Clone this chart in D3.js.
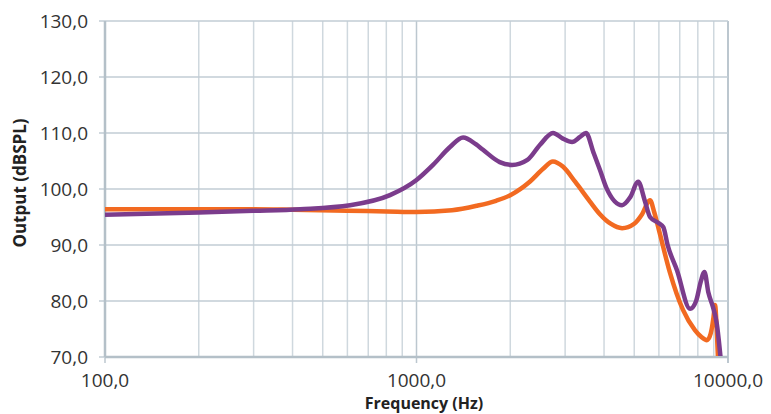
<!DOCTYPE html>
<html>
<head>
<meta charset="utf-8">
<script src="https://cdn.jsdelivr.net/npm/d3@7"></script>
<style>
  html, body { margin: 0; padding: 0; background: #fff; }
  svg { display: block; }
  .tick-label { font-family: "Open Sans", sans-serif; font-size: 19px; fill: #333; }
  .axis-title { font-family: "Open Sans", sans-serif; font-size: 17px; font-weight: bold; fill: #222; }
</style>
</head>
<body>
<div id="chart"></div>
<script>
// tick values
var yTicks = [70, 80, 90, 100, 110, 120, 130];
var xMajor = [100, 1000, 10000];

// orange series
var orangeFreq = [100, 200, 300, 400, 600, 800, 1000, 1300, 1560, 1800, 2000, 2310, 2550, 2740, 2950, 3230, 3600, 3880, 4200, 4570, 5000, 5300, 5620, 5800, 6000, 6500, 7170, 7830, 8200, 8560, 8800, 8980, 9085, 9200, 9300];
var orangeVal  = [96.4, 96.4, 96.4, 96.3, 96.1, 96.0, 95.9, 96.2, 97.0, 97.9, 98.9, 101.3, 103.6, 104.9, 104.0, 101.3, 97.8, 95.5, 93.8, 93.0, 93.8, 95.5, 98.0, 95.8, 92.7, 85.2, 78.4, 74.8, 73.6, 73.0, 74.2, 77.0, 79.3, 75.0, 69.0];

// purple series
var purpleFreq = [100, 200, 300, 423, 612, 822, 1000, 1130, 1281, 1411, 1550, 1635, 1850, 2026, 2270, 2492, 2743, 2950, 3157, 3350, 3500, 3700, 3882, 4070, 4570, 4850, 5150, 5400, 5620, 6000, 6200, 6400, 6858, 7555, 7900, 8180, 8400, 8650, 8950, 9200, 9500];
var purpleVal  = [95.4, 95.8, 96.1, 96.4, 97.1, 98.9, 101.6, 104.3, 107.5, 109.2, 108.0, 107.0, 104.8, 104.3, 105.2, 107.9, 110.0, 109.0, 108.4, 109.3, 110.0, 106.5, 103.4, 100.2, 97.1, 98.5, 101.3, 98.0, 95.0, 93.9, 93.2, 90.0, 85.5, 78.6, 80.0, 83.5, 85.2, 81.5, 78.9, 76.0, 69.0];

var W = 771, H = 414;
var margin = { top: 21, right: 43, bottom: 57, left: 105 };
var plotW = W - margin.left - margin.right;
var plotH = H - margin.top - margin.bottom;

var svg = d3.select('#chart').append('svg')
    .attr('width', W)
    .attr('height', H);

var x = d3.scaleLog().domain([100, 10000]).range([margin.left, margin.left + plotW]);
var y = d3.scaleLinear().domain([70, 130]).range([margin.top + plotH, margin.top]);

// minor vertical grid (2..9 of each decade)
var minor = [];
[100, 1000].forEach(function (d) {
    for (var k = 2; k <= 9; k++) { minor.push(d * k); }
});

var grid = svg.append('g');
grid.selectAll('line.vminor')
    .data(minor)
    .enter().append('line')
    .attr('x1', function (d) { return x(d); })
    .attr('x2', function (d) { return x(d); })
    .attr('y1', y(130))
    .attr('y2', y(70))
    .attr('stroke', '#cfd8de')
    .attr('stroke-width', 1.5);

grid.selectAll('line.vmajor')
    .data(xMajor)
    .enter().append('line')
    .attr('x1', function (d) { return x(d); })
    .attr('x2', function (d) { return x(d); })
    .attr('y1', y(130))
    .attr('y2', y(70) + 6)
    .attr('stroke', '#bcc7cf')
    .attr('stroke-width', function (d, i) { return i === 2 ? 2 : 1.5; });

grid.selectAll('line.h')
    .data(yTicks)
    .enter().append('line')
    .attr('x1', x(100) - 6)
    .attr('x2', x(10000))
    .attr('y1', function (d) { return y(d); })
    .attr('y2', function (d) { return y(d); })
    .attr('stroke', '#c2ccd4')
    .attr('stroke-width', 1.5);

// axis lines
svg.append('line')
    .attr('x1', x(100)).attr('x2', x(100))
    .attr('y1', y(130)).attr('y2', y(70))
    .attr('stroke', '#b4c0c8').attr('stroke-width', 2.5);
svg.append('line')
    .attr('x1', x(100)).attr('x2', x(10000))
    .attr('y1', y(70)).attr('y2', y(70))
    .attr('stroke', '#b4c0c8').attr('stroke-width', 2.5);

// tick labels
var fmt = function (v) { return d3.format('.1f')(v).replace('.', ','); };

svg.selectAll('text.ylab')
    .data(yTicks)
    .enter().append('text')
    .attr('class', 'tick-label')
    .attr('x', 88)
    .attr('y', function (d) { return y(d); })
    .attr('dy', '0.36em')
    .attr('text-anchor', 'end')
    .text(fmt);

svg.selectAll('text.xlab')
    .data(xMajor)
    .enter().append('text')
    .attr('class', 'tick-label')
    .attr('x', function (d) { return x(d); })
    .attr('y', 387)
    .attr('text-anchor', 'middle')
    .text(fmt);

// axis titles
svg.append('text')
    .attr('class', 'axis-title')
    .attr('transform', 'translate(26,' + (y(100) - 6) + ') rotate(-90)')
    .attr('text-anchor', 'middle')
    .text('Output (dBSPL)');

svg.append('text')
    .attr('class', 'axis-title')
    .style('font-size', '16px')
    .attr('x', 424)
    .attr('y', 409)
    .attr('text-anchor', 'middle')
    .text('Frequency (Hz)');

// curves
svg.append('clipPath').attr('id', 'plot-clip')
    .append('rect')
    .attr('x', margin.left).attr('y', margin.top - 5)
    .attr('width', plotW).attr('height', plotH + 4);

var line = d3.line()
    .x(function (d) { return x(d[0]); })
    .y(function (d) { return y(d[1]); })
    .curve(d3.curveMonotoneX);

var curves = svg.append('g').attr('clip-path', 'url(#plot-clip)');

curves.append('path')
    .datum(d3.zip(orangeFreq, orangeVal))
    .attr('d', line)
    .attr('fill', 'none')
    .attr('stroke', '#f26a21')
    .attr('stroke-width', 4.5)
    .attr('stroke-linejoin', 'round');

curves.append('path')
    .datum(d3.zip(purpleFreq, purpleVal))
    .attr('d', line)
    .attr('fill', 'none')
    .attr('stroke', '#7b3c8c')
    .attr('stroke-width', 4.5)
    .attr('stroke-linejoin', 'round');
</script>
</body>
</html>
